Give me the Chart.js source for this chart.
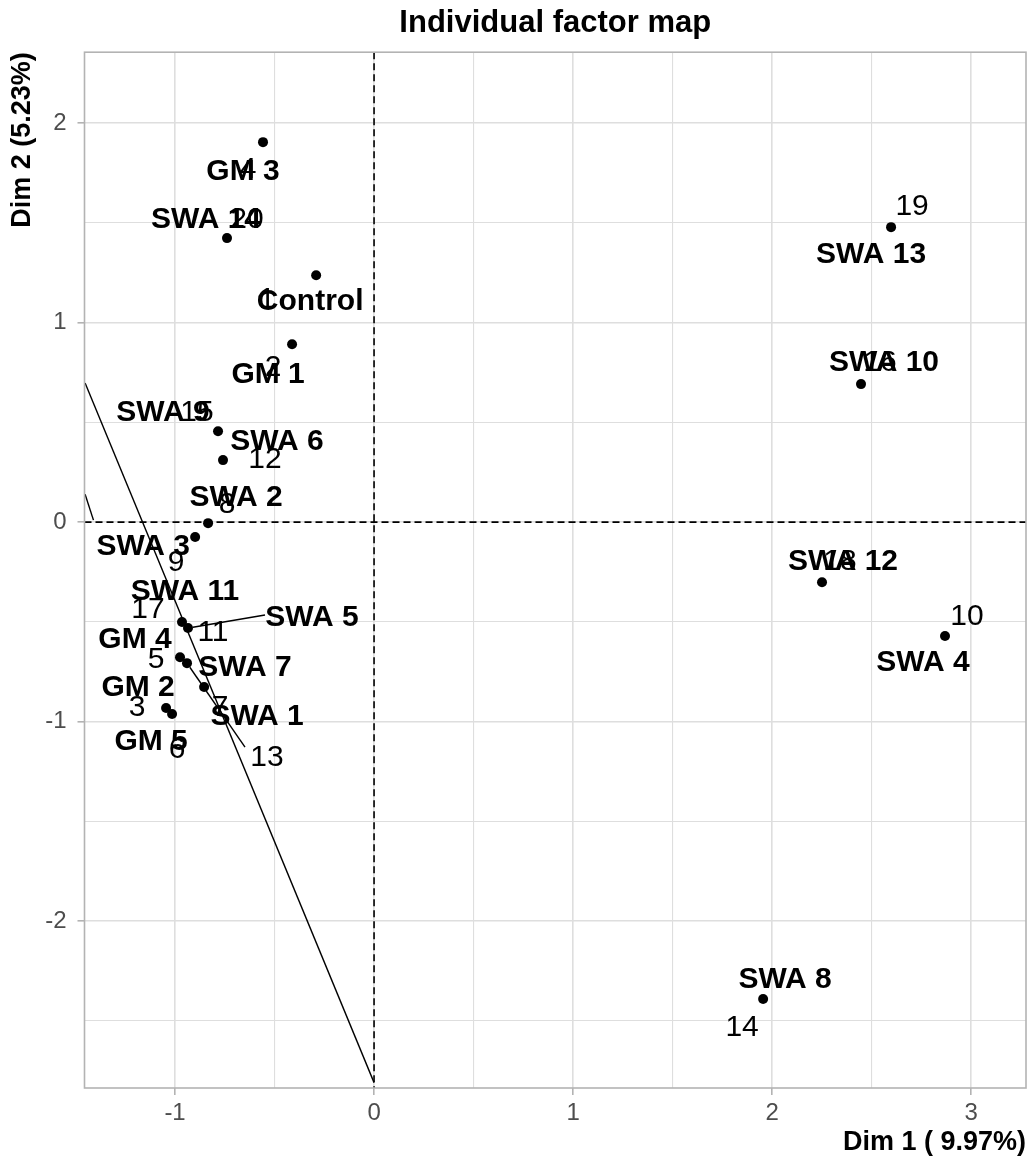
<!DOCTYPE html>
<html>
<head>
<meta charset="utf-8">
<script src="https://cdn.jsdelivr.net/npm/chart.js@4.4.1/dist/chart.umd.min.js"></script>
<style>
  html, body { margin: 0; padding: 0; background: #fff; }
  #wrap { width: 1032px; height: 1169px; }
</style>
</head>
<body>
<div id="wrap"><canvas id="factor-map" width="1032" height="1169"></canvas></div>
<script>
// individuals, PCA coordinates on the first two dimensions
const names = ['Control', 'GM 1', 'GM 2', 'GM 3', 'GM 4', 'GM 5', 'SWA 1', 'SWA 2', 'SWA 3', 'SWA 4',
  'SWA 5', 'SWA 6', 'SWA 7', 'SWA 8', 'SWA 9', 'SWA 10', 'SWA 11', 'SWA 12', 'SWA 13', 'SWA 14'];
const ids = ['1', '2', '3', '4', '5', '6', '7', '8', '9', '10',
  '11', '12', '13', '14', '15', '16', '17', '18', '19', '20'];
const dim1 = [-0.291, -0.412, -1.045, -0.558, -0.975, -1.015, -0.854, -0.834, -0.899, 2.869,
  -0.935, -0.759, -0.940, 1.955, -0.784, 2.447, -0.965, 2.251, 2.598, -0.739];
const dim2 = [1.238, 0.892, -0.932, 1.905, -0.677, -0.962, -0.827, -0.005, -0.075, -0.571,
  -0.531, 0.311, -0.707, -2.391, 0.456, 0.692, -0.501, -0.301, 1.479, 1.424];

// stray repel segments
const strayLong = [{ x: -1.452, y: 0.697 }, { x: 0.0, y: -2.81 }];
const strayShort = [{ x: -1.452, y: 0.14 }, { x: -1.41, y: 0.01 }];

const xTicks = [-1, 0, 1, 2, 3];
const yTicks = [-2, -1, 0, 1, 2];
const xRange = [-1.455, 3.276];
const yRange = [-2.837, 2.356];

// label placement (pixels from the point), like ggrepel left them
const nameOffsets = [[-6, 27], [-24, 31], [-28, -20], [-20, 30], [-45, -17], [-21, 28], [53, 30], [28, -25], [-52, 10], [-22, 27],
  [124, -10], [54, -18], [58, 5], [22, -19], [-55, -18], [23, -21], [3, -30], [21, -20], [-20, 28], [-21, -18]];
const idOffsets = [[-49, 25], [-19, 24], [-29, 0], [-15, 28], [-24, 3], [5, 36], [16, 21], [19, -18], [-19, 26], [22, -19],
  [25, 5], [42, 0], [80, 95], [-21, 29], [-21, -18], [19, -21], [-34, -12], [18, -20], [21, -20], [20, -18]];
// leader lines: [kind, index, start dx, start dy]
const leaders = [['name', 10, 77, -13], ['id', 12, 58, 84]];

const FONT = "'Liberation Sans', Arial, Helvetica, sans-serif";
Chart.defaults.font.family = FONT;

const isMajor = (v, list) => list.some(t => Math.abs(t - v) < 1e-6);

const mapDecor = {
  id: 'mapDecor',
  beforeDatasetsDraw(chart) {
    const { ctx, chartArea: a, scales: { x, y } } = chart;
    ctx.save();
    ctx.strokeStyle = '#000';
    ctx.lineWidth = 1.6;
    ctx.setLineDash([7, 4]);
    const x0 = x.getPixelForValue(0);
    const y0 = y.getPixelForValue(0);
    ctx.beginPath();
    ctx.moveTo(a.left, y0); ctx.lineTo(a.right, y0);
    ctx.moveTo(x0, a.top); ctx.lineTo(x0, a.bottom);
    ctx.stroke();
    ctx.restore();
  },
  afterDatasetsDraw(chart) {
    const { ctx, chartArea: a, scales: { x, y } } = chart;
    const px = i => x.getPixelForValue(dim1[i]);
    const py = i => y.getPixelForValue(dim2[i]);

    ctx.save();
    ctx.strokeStyle = '#000';
    ctx.lineWidth = 1.4;
    leaders.forEach(([kind, i, dx, dy]) => {
      const ex = px(i), ey = py(i);
      const sx = ex + dx, sy = ey + dy;
      const len = Math.hypot(sx - ex, sy - ey);
      const k = (len - 5) / len;
      ctx.beginPath();
      ctx.moveTo(sx, sy);
      ctx.lineTo(sx + (ex - sx) * k, sy + (ey - sy) * k);
      ctx.stroke();
    });

    ctx.fillStyle = '#000';
    ctx.textAlign = 'center';
    ctx.textBaseline = 'middle';
    ctx.font = '30px ' + FONT;
    ids.forEach((t, i) => {
      ctx.fillText(t, px(i) + idOffsets[i][0], py(i) + idOffsets[i][1]);
    });
    ctx.font = 'bold 30px ' + FONT;
    names.forEach((t, i) => {
      ctx.fillText(t, px(i) + nameOffsets[i][0], py(i) + nameOffsets[i][1]);
    });

    // panel border
    ctx.strokeStyle = '#b3b3b3';
    ctx.lineWidth = 1.6;
    ctx.strokeRect(a.left, a.top, a.right - a.left, a.bottom - a.top);
    ctx.restore();
  }
};

const gridFor = list => ({
  color: '#dedede',
  lineWidth: c => (isMajor(c.tick.value, list) ? 1.6 : 1.1),
  drawTicks: true,
  tickLength: 7,
  tickWidth: 1.6,
  tickColor: c => (isMajor(c.tick.value, list) ? '#b3b3b3' : 'rgba(0,0,0,0)')
});

new Chart(document.getElementById('factor-map'), {
  type: 'scatter',
  data: {
    datasets: [
      {
        type: 'line',
        data: strayLong,
        borderColor: '#000',
        borderWidth: 1.4,
        pointRadius: 0,
        fill: false
      },
      {
        type: 'line',
        data: strayShort,
        borderColor: '#000',
        borderWidth: 1.4,
        pointRadius: 0,
        fill: false
      },
      {
        data: dim1.map((v, i) => ({ x: v, y: dim2[i] })),
        backgroundColor: '#000',
        borderWidth: 0,
        pointRadius: 5
      }
    ]
  },
  options: {
    responsive: false,
    animation: false,
    devicePixelRatio: 1,
    layout: { padding: { left: 0, right: 6, top: 0, bottom: 0 } },
    plugins: {
      legend: { display: false },
      tooltip: { enabled: false },
      title: {
        display: true,
        fullSize: false,
        text: 'Individual factor map',
        color: '#000',
        font: { size: 31, weight: 'bold' },
        padding: { top: 5, bottom: 10 }
      }
    },
    scales: {
      x: {
        type: 'linear',
        min: xRange[0],
        max: xRange[1],
        afterFit: s => { s.height = 81; },
        border: { display: false },
        grid: gridFor(xTicks),
        ticks: {
          stepSize: 0.5,
          includeBounds: false,
          autoSkip: false,
          maxRotation: 0,
          padding: 4,
          color: '#4d4d4d',
          font: { size: 24 },
          callback: v => (isMajor(v, xTicks) ? String(Math.round(v)) : '')
        },
        title: {
          display: true,
          text: 'Dim 1 ( 9.97%)',
          align: 'end',
          color: '#000',
          font: { size: 27, weight: 'bold' },
          padding: { top: 0, bottom: 10 }
        }
      },
      y: {
        type: 'linear',
        min: yRange[0],
        max: yRange[1],
        afterFit: s => { s.width = 84.5; },
        border: { display: false },
        grid: gridFor(yTicks),
        ticks: {
          stepSize: 0.5,
          includeBounds: false,
          autoSkip: false,
          padding: 11,
          color: '#4d4d4d',
          font: { size: 24 },
          callback: v => (isMajor(v, yTicks) ? String(Math.round(v)) : '')
        },
        title: {
          display: true,
          text: 'Dim 2 (5.23%)',
          align: 'end',
          color: '#000',
          font: { size: 27, weight: 'bold' },
          padding: { top: 6, bottom: 0 }
        }
      }
    }
  },
  plugins: [mapDecor]
});
</script>
</body>
</html>
